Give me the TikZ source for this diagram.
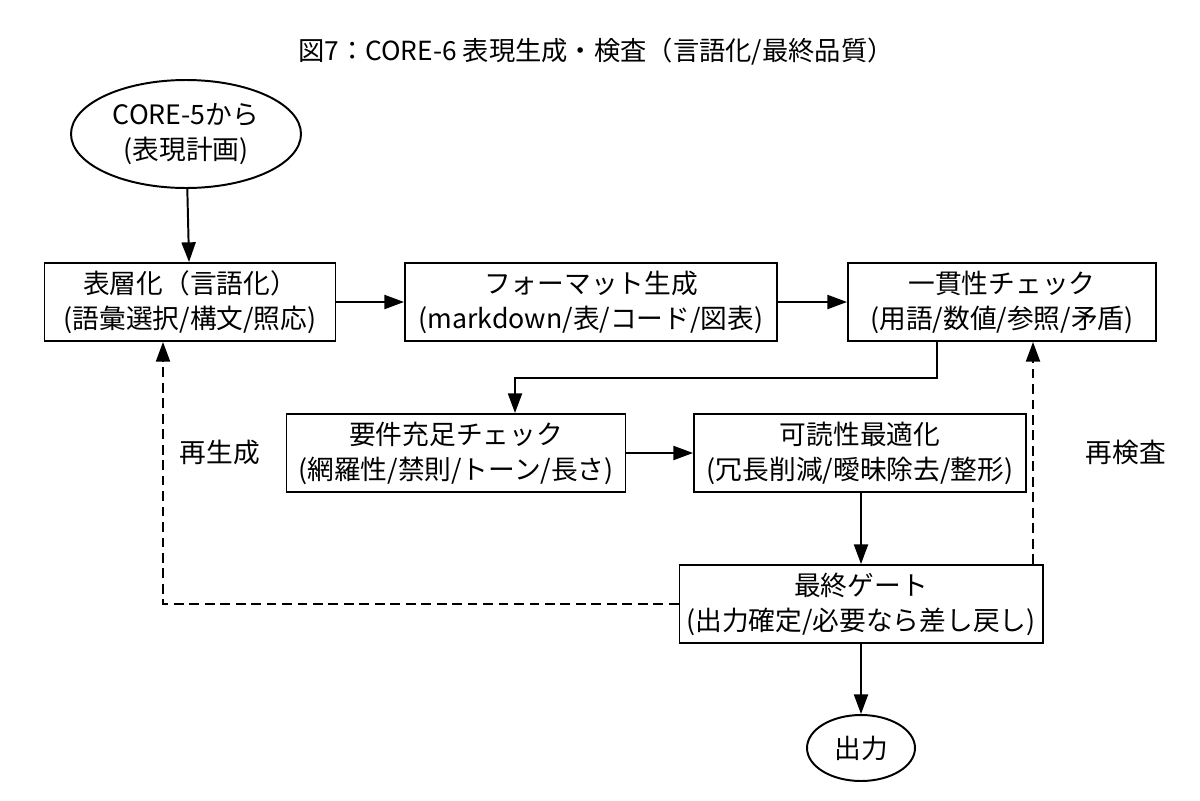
\documentclass[tikz,border=0pt]{standalone}
\usepackage{fontspec}
\setmainfont{Noto Sans CJK JP}
\usetikzlibrary{positioning, arrows.meta, calc, shapes.geometric}

\begin{document}
\begin{tikzpicture}[line width=1.4pt,
    font=\fontsize{19}{25}\selectfont,
    kasten/.style={draw, rectangle, align=center, minimum height=1.95cm, inner sep=2pt},
    oval/.style={draw, ellipse, align=center, inner sep=1pt},
    pfeil/.style={-{Triangle[length=14pt, width=10pt]}},
    zurueck/.style={pfeil, dashed, dash pattern=on 7pt off 4pt}]
    % Seitenrahmen 1200x800 px (1 px = 0.025 cm)
    \useasboundingbox (0,0) rectangle (30,-20);

    % --- TITEL ---
    \node[font=\fontsize{18.7}{24}\selectfont] (titel) at (14.9,-1.3) {図7：CORE-6 表現生成・検査（言語化/最終品質）};

    % --- KNOTEN ---
    \node[oval, minimum width=5.75cm, minimum height=2.7cm] (start) at (4.65,-3.35) {CORE-5から\\(表現計画)};
    \node[kasten, minimum width=7.275cm] (surface) at (4.75,-7.55) {表層化（言語化）\\(語彙選択/構文/照応)};
    \node[kasten, minimum width=9.3cm] (format) at (14.775,-7.55) {フォーマット生成\\(markdown/表/コード/図表)};
    \node[kasten, minimum width=7.7cm] (consist) at (25.05,-7.55) {一貫性チェック\\(用語/数値/参照/矛盾)};
    \node[kasten, minimum width=8.475cm] (require) at (11.4,-11.325) {要件充足チェック\\(網羅性/禁則/トーン/長さ)};
    \node[kasten, minimum width=8.3cm] (readable) at (21.5,-11.325) {可読性最適化\\(冗長削減/曖昧除去/整形)};
    \node[kasten, minimum width=9.075cm] (gate) at (21.525,-15.1) {最終ゲート\\(出力確定/必要なら差し戻し)};
    \node[oval, minimum width=2.7cm, minimum height=1.65cm] (output) at (21.525,-18.7) {出力};

    % Beschriftungen der Rueckwege
    \node (regen) at (5.5,-11.3) {再生成};
    \node (recheck) at (28.15,-11.3) {再検査};

    % --- VERBINDUNGEN ---
    \draw[pfeil] (start) -- (surface);
    \draw[pfeil] (surface) -- (format);
    \draw[pfeil] (format) -- (consist);
    \draw[pfeil] (consist.south -| 23.425,0) |- (12.875,-9.45) -- (require.north -| 12.875,0);
    \draw[pfeil] (require) -- (readable);
    \draw[pfeil] (readable.south -| gate.north) -- (gate.north);
    \draw[pfeil] (gate) -- (output);

    % Rueckwege (gestrichelt)
    \draw[zurueck] (gate.west) -| (surface.south -| 4.075,0);
    \draw[zurueck] (gate.north -| 25.825,0) -- (consist.south -| 25.825,0);
\end{tikzpicture}
\end{document}
